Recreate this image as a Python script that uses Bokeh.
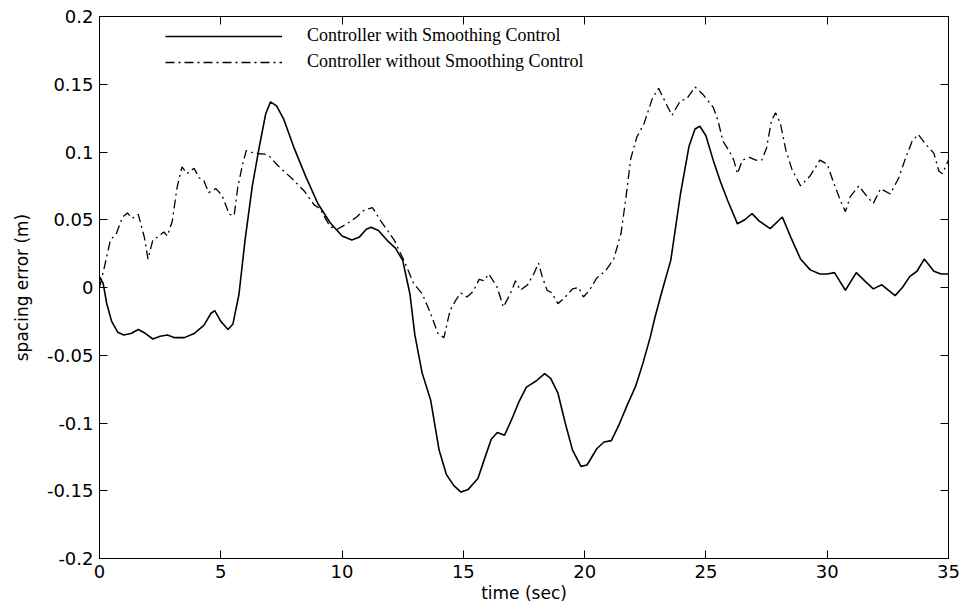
from bokeh.plotting import figure
from bokeh.models import (LinearAxis, FixedTicker, NumeralTickFormatter, Legend, LegendItem,
                          Range1d, ColumnDataSource, CustomJSTickFormatter)
from bokeh.embed import file_html
from bokeh.resources import INLINE

# ---- data ----
t_smooth = [0.0, 0.15, 0.3, 0.5, 0.75, 1.0, 1.3, 1.6, 1.9, 2.2, 2.5, 2.8, 3.1, 3.5, 3.9, 4.3, 4.6,
            4.75, 5.0, 5.3, 5.5, 5.75, 6.0, 6.3, 6.6, 6.85, 7.05, 7.3, 7.6, 8.0, 8.5, 9.0, 9.5,
            10.0, 10.4, 10.7, 11.0, 11.2, 11.5, 11.9, 12.2, 12.5, 12.8, 13.0, 13.3, 13.65, 14.0,
            14.3, 14.6, 14.9, 15.2, 15.6, 15.9, 16.15, 16.4, 16.7, 17.0, 17.3, 17.6, 18.0, 18.35,
            18.6, 18.9, 19.2, 19.5, 19.85, 20.1, 20.5, 20.8, 21.1, 21.4, 21.75, 22.1, 22.4, 22.7,
            22.9, 23.2, 23.55, 23.95, 24.3, 24.55, 24.75, 25.0, 25.3, 25.6, 25.9, 26.3, 26.6,
            26.9, 27.2, 27.65, 28.15, 28.5, 28.9, 29.3, 29.7, 30.0, 30.3, 30.75, 31.2, 31.6,
            31.9, 32.25, 32.8, 33.1, 33.4, 33.7, 34.0, 34.4, 34.7, 35.0]
e_smooth = [0.008, 0.003, -0.012, -0.025, -0.033, -0.035, -0.034, -0.031, -0.034, -0.038, -0.036,
            -0.035, -0.037, -0.037, -0.034, -0.028, -0.019, -0.017, -0.025, -0.031, -0.027, -0.005,
            0.035, 0.075, 0.105, 0.128, 0.137, 0.134, 0.124, 0.104, 0.082, 0.062, 0.048, 0.038,
            0.035, 0.037, 0.043, 0.0445, 0.042, 0.034, 0.029, 0.020, -0.005, -0.035, -0.063,
            -0.083, -0.120, -0.138, -0.146, -0.151, -0.149, -0.141, -0.125, -0.112, -0.107,
            -0.109, -0.097, -0.084, -0.0735, -0.069, -0.0635, -0.067, -0.078, -0.100, -0.120,
            -0.132, -0.131, -0.119, -0.114, -0.113, -0.102, -0.087, -0.073, -0.056, -0.037,
            -0.022, -0.002, 0.020, 0.069, 0.104, 0.117, 0.119, 0.112, 0.094, 0.078, 0.064, 0.047,
            0.050, 0.0545, 0.049, 0.0435, 0.052, 0.037, 0.021, 0.013, 0.010, 0.010, 0.011,
            -0.002, 0.011, 0.004, -0.001, 0.002, -0.006, 0.0, 0.008, 0.012, 0.021, 0.012, 0.010,
            0.010]

t_plain = [0.0, 0.2, 0.45, 0.7, 0.95, 1.15, 1.35, 1.6, 1.85, 2.0, 2.2, 2.45, 2.65, 2.8, 3.0, 3.2,
           3.4, 3.6, 3.9, 4.1, 4.3, 4.5, 4.8, 5.05, 5.35, 5.55, 5.7, 5.9, 6.05, 6.4, 6.8, 7.0,
           7.35, 7.9, 8.45, 8.85, 9.1, 9.5, 9.8, 10.2, 10.6, 10.9, 11.25, 11.6, 12.15, 12.55,
           12.95, 13.3, 13.65, 13.95, 14.2, 14.45, 14.7, 14.9, 15.15, 15.4, 15.65, 15.85, 16.05,
           16.4, 16.65, 16.95, 17.15, 17.35, 17.65, 17.9, 18.1, 18.25, 18.45, 18.65, 18.9, 19.2,
           19.5, 19.75, 19.95, 20.2, 20.5, 20.85, 21.2, 21.5, 21.7, 21.9, 22.15, 22.45, 22.8,
           23.05, 23.35, 23.6, 23.95, 24.2, 24.55, 24.9, 25.3, 25.5, 25.7, 25.95, 26.15, 26.3,
           26.5, 26.8, 27.05, 27.3, 27.5, 27.7, 27.87, 28.07, 28.3, 28.55, 28.9, 29.3, 29.7,
           30.0, 30.27, 30.55, 30.75, 30.95, 31.3, 31.65, 31.9, 32.2, 32.6, 32.95, 33.2, 33.5,
           33.75, 34.05, 34.4, 34.6, 34.75, 35.0]
e_plain = [0.0, 0.015, 0.035, 0.040, 0.052, 0.055, 0.051, 0.054, 0.037, 0.021, 0.035, 0.038,
           0.041, 0.038, 0.049, 0.074, 0.089, 0.084, 0.088, 0.081, 0.079, 0.070, 0.073, 0.068,
           0.054, 0.053, 0.074, 0.091, 0.101, 0.099, 0.0985, 0.097, 0.090, 0.081, 0.071, 0.061,
           0.058, 0.045, 0.043, 0.047, 0.052, 0.057, 0.059, 0.049, 0.035, 0.020, 0.003, -0.0045,
           -0.019, -0.034, -0.037, -0.017, -0.009, -0.004, -0.007, -0.003, 0.006, 0.005, 0.010,
           0.0, -0.0145, -0.004, 0.005, -0.002, 0.002, 0.010, 0.018, 0.008, -0.002, -0.004,
           -0.012, -0.007, -0.001, 0.0, -0.007, -0.002, 0.007, 0.012, 0.021, 0.040, 0.066, 0.095,
           0.111, 0.121, 0.140, 0.147, 0.136, 0.127, 0.138, 0.139, 0.148, 0.142, 0.133, 0.123,
           0.108, 0.101, 0.094, 0.084, 0.094, 0.096, 0.094, 0.094, 0.103, 0.123, 0.129, 0.121,
           0.101, 0.087, 0.075, 0.0825, 0.094, 0.091, 0.077, 0.064, 0.056, 0.067, 0.075, 0.067,
           0.062, 0.073, 0.069, 0.081, 0.094, 0.108, 0.113, 0.106, 0.099, 0.086, 0.084, 0.094]

x_ticks = [0, 5, 10, 15, 20, 25, 30, 35]
y_ticks = [-0.2, -0.15, -0.1, -0.05, 0, 0.05, 0.1, 0.15, 0.2]
series_labels = ["Controller with Smoothing Control", "Controller without Smoothing Control"]
x_label = "time (sec)"
y_label = "spacing error (m)"

TICK_FONT = "DejaVu Sans"

p = figure(width=960, height=605, output_backend="svg", toolbar_location=None,
           x_range=Range1d(0, 35), y_range=Range1d(-0.2, 0.2),
           min_border_left=99, min_border_right=12, min_border_top=16, min_border_bottom=47,
           x_axis_label=x_label, y_axis_label=y_label)
p.background_fill_color = "white"
p.border_fill_color = "white"
p.outline_line_color = "black"
p.outline_line_width = 1
p.xgrid.visible = False
p.ygrid.visible = False

src_s = ColumnDataSource(dict(t=t_smooth, e=e_smooth))
src_p = ColumnDataSource(dict(t=t_plain, e=e_plain))
r1 = p.line("t", "e", source=src_s, line_color="black", line_width=1.6)
r2 = p.line("t", "e", source=src_p, line_color="black", line_width=1.3, line_dash="9 4 2 4")

for ax, ticks in ((p.xaxis[0], x_ticks), (p.yaxis[0], y_ticks)):
    ax.ticker = FixedTicker(ticks=ticks)
    ax.formatter = NumeralTickFormatter(format="0.[00]")
    ax.major_tick_in = 8
    ax.major_tick_out = 0
    ax.minor_tick_in = 0
    ax.minor_tick_out = 0
    ax.major_tick_line_color = "black"
    ax.axis_line_color = "black"
    ax.major_label_text_font = TICK_FONT
    ax.major_label_text_font_size = "18px"
    ax.major_label_text_color = "black"
    ax.axis_label_text_font = TICK_FONT
    ax.axis_label_text_font_style = "normal"
    ax.axis_label_text_font_size = "17px"
    ax.axis_label_text_color = "black"

p.xaxis[0].major_label_standoff = 6
p.xaxis[0].axis_label_standoff = 2
p.yaxis[0].major_label_standoff = 6
p.yaxis[0].axis_label_standoff = 12

# mirrored ticks on top and right (no labels)
blank = CustomJSTickFormatter(code="return '';")
top = LinearAxis(ticker=FixedTicker(ticks=x_ticks), formatter=blank,
                 major_tick_in=8, major_tick_out=0, minor_tick_in=0, minor_tick_out=0,
                 major_label_standoff=0, axis_line_color="black")
right = LinearAxis(ticker=FixedTicker(ticks=y_ticks), formatter=blank,
                   major_tick_in=8, major_tick_out=0, minor_tick_in=0, minor_tick_out=0,
                   major_label_standoff=0, axis_line_color="black")
p.add_layout(top, "above")
p.add_layout(right, "right")

legend = Legend(items=[LegendItem(label=series_labels[0], renderers=[r1]),
                       LegendItem(label=series_labels[1], renderers=[r2])],
                location=(66, 486), orientation="vertical",
                glyph_width=117, glyph_height=20, label_height=20, spacing=5,
                label_standoff=25, padding=0, margin=0,
                border_line_alpha=0, background_fill_alpha=0,
                label_text_font="Liberation Serif", label_text_font_size="18px",
                label_text_color="black")
p.add_layout(legend)

open("out.html", "w").write(file_html(p, INLINE))
